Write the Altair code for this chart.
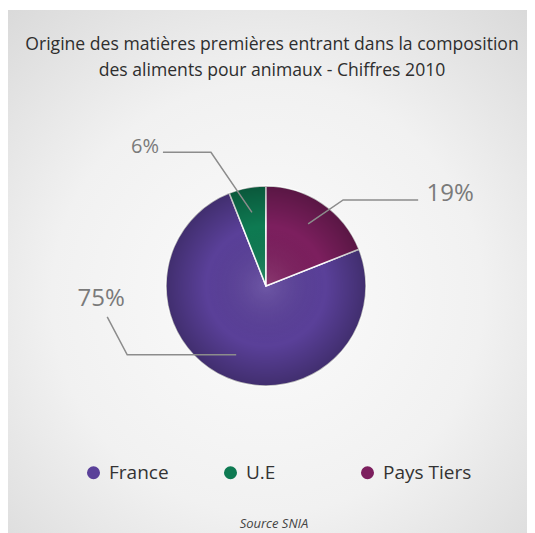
import math
import altair as alt
import pandas as pd

# ---- data ----
categories = ["France", "U.E", "Pays Tiers"]
values = [75, 6, 19]
value_labels = ["75%", "6%", "19%"]
clockwise_rank = [2, 3, 1]          # order of slices clockwise from 12 o'clock
colors = ["#5a4099", "#0e7a52", "#7c1f5e"]

title_lines = ["Origine des matières premières entrant dans la composition",
               "des aliments pour animaux - Chiffres 2010"]
source_text = "Source SNIA"

# ---- layout (not data) ----
W, H = 519, 525
CX, CY, R = 258, 278, 100
FONT = "Open Sans"
leader_steps = {
    "Pays Tiers": [(35, -24), (75, 0)],
    "France": [(-109, 0), (-20, -38)],
    "U.E": [(-41, -60), (-48, 0)],
}
label_offset = {"Pays Tiers": (32, 1), "France": (-6, -11), "U.E": (-18, 1)}
label_size = {"Pays Tiers": 24, "France": 24, "U.E": 20}

df = pd.DataFrame({"cat": categories, "value": values, "label": value_labels,
                   "rank": clockwise_rank})

# mid-angle of each slice (0 = top, clockwise), from the data
total = sum(values)
ordered = df.sort_values("rank")
cum = 0.0
mid = {}
for _, r in ordered.iterrows():
    mid[r["cat"]] = (cum + r["value"] / 2) / total * 2 * math.pi
    cum += r["value"]

line_rows, label_rows = [], []
for _, r in df.iterrows():
    a = mid[r["cat"]]
    x = CX + 0.75 * R * math.sin(a)
    y = CY - 0.75 * R * math.cos(a)
    line_rows.append({"cat": r["cat"], "step": 0, "x": x, "y": y})
    for i, (dx, dy) in enumerate(leader_steps[r["cat"]], start=1):
        x += dx
        y += dy
        line_rows.append({"cat": r["cat"], "step": i, "x": x, "y": y})
    ox, oy = label_offset[r["cat"]]
    label_rows.append({"cat": r["cat"], "label": r["label"], "x": x + ox, "y": y + oy,
                       "fs": label_size[r["cat"]]})
lines_df = pd.DataFrame(line_rows)
labels_df = pd.DataFrame(label_rows)

xs = alt.Scale(domain=[0, W])
ys = alt.Scale(domain=[0, H], reverse=True)
one = alt.Data(values=[{"k": 1}])

bg = alt.Chart(one).mark_rect(
    fill={"gradient": "radial", "x1": 0.5, "y1": 0.55, "r1": 0, "x2": 0.5, "y2": 0.55, "r2": 0.75,
          "stops": [{"offset": 0, "color": "#fbfbfb"}, {"offset": 0.55, "color": "#f1f1f1"},
                    {"offset": 1, "color": "#d9d9d9"}]}
).encode(x=alt.value(0), x2=alt.value(W), y=alt.value(2), y2=alt.value(H))

pie = alt.Chart(df).mark_arc(outerRadius=R, stroke="white", strokeWidth=1.5).encode(
    theta=alt.Theta("value:Q", stack=True),
    order=alt.Order("rank:Q"),
    color=alt.Color("cat:N", scale=alt.Scale(domain=categories, range=colors),
                    legend=alt.Legend(orient="none", legendX=76, legendY=455, direction="horizontal",
                                      title=None, symbolType="circle", symbolSize=170,
                                      symbolStrokeWidth=0, labelFontSize=19, labelFont=FONT,
                                      labelColor="#333333", columnPadding=23, gridAlign="all",
                                      labelOffset=6, padding=0, columns=3)),
    x=alt.value(CX), y=alt.value(CY),
)

shade = alt.Chart(one).mark_arc(
    theta=0, theta2=2 * math.pi, outerRadius=R,
    fill={"gradient": "radial", "x1": 0.5, "y1": 0.5, "r1": 0, "x2": 0.5, "y2": 0.5, "r2": 0.5,
          "stops": [{"offset": 0, "color": "rgba(255,255,255,0.12)"},
                    {"offset": 0.6, "color": "rgba(0,0,0,0)"},
                    {"offset": 1, "color": "rgba(0,0,0,0.28)"}]}
).encode(x=alt.value(CX), y=alt.value(CY))

leaders = alt.Chart(lines_df).mark_line(color="#8c8c8c", strokeWidth=1.5).encode(
    x=alt.X("x:Q", scale=xs, axis=None),
    y=alt.Y("y:Q", scale=ys, axis=None),
    detail="cat:N", order="step:Q",
)

pct = alt.Chart(labels_df).mark_text(font=FONT, color="#7a7a7a", align="center",
                                      baseline="alphabetic").encode(
    x=alt.X("x:Q", scale=xs, axis=None),
    y=alt.Y("y:Q", scale=ys, axis=None),
    text="label:N",
    size=alt.Size("fs:Q", scale=None),
)

title = alt.Chart(one).mark_text(text=title_lines, font=FONT, fontSize=17.6, color="#2e2e2e",
                                 align="center", baseline="alphabetic", lineHeight=26).encode(
    x=alt.value(264), y=alt.value(42))

source = alt.Chart(one).mark_text(text=source_text, font=FONT, fontSize=13, fontStyle="italic",
                                  color="#444444", align="center", baseline="alphabetic").encode(
    x=alt.value(266), y=alt.value(520))

chart = alt.layer(bg, pie, shade, leaders, pct, title, source).properties(
    width=W, height=H, padding=0, background="#ffffff",
    autosize=alt.AutoSizeParams(type="none"),
).configure_view(stroke=None)

chart.save("out.html", embed_options={"renderer": "svg", "actions": False})
